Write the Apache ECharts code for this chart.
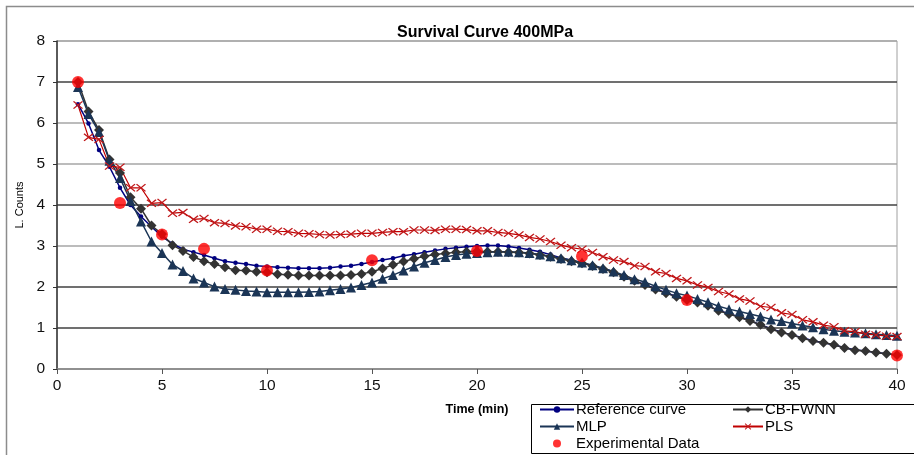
<!DOCTYPE html>
<html>
<head>
<meta charset="utf-8">
<script src="https://cdn.jsdelivr.net/npm/echarts@6/dist/echarts.min.js"></script>
<style>
html,body{margin:0;padding:0;background:#fff;}
#chart{width:914px;height:455px;}
</style>
</head>
<body>
<div id="chart"></div>
<script>
var times = [1,1.5,2,2.5,3,3.5,4,4.5,5,5.5,6,6.5,7,7.5,8,8.5,9,9.5,10,10.5,
  11,11.5,12,12.5,13,13.5,14,14.5,15,15.5,16,16.5,17,17.5,18,18.5,19,19.5,20,20.5,
  21,21.5,22,22.5,23,23.5,24,24.5,25,25.5,26,26.5,27,27.5,28,28.5,29,29.5,30,30.5,
  31,31.5,32,32.5,33,33.5,34,34.5,35,35.5,36,36.5,37,37.5,38,38.5,39,39.5,40];

var referenceCurve = [6.46,5.99,5.34,4.93,4.42,4.00,3.72,3.47,3.23,3.06,2.92,2.85,2.78,2.70,2.63,2.59,2.56,2.52,2.50,2.48,
  2.47,2.46,2.46,2.46,2.47,2.50,2.52,2.56,2.61,2.66,2.70,2.76,2.80,2.85,2.89,2.93,2.96,2.98,3.00,3.01,
  3.01,2.99,2.95,2.91,2.86,2.79,2.71,2.65,2.59,2.52,2.45,2.37,2.26,2.15,2.06,1.95,1.86,1.77,1.69,1.62,
  1.54,1.43,1.35,1.27,1.18,1.08,0.98,0.90,0.83,0.76,0.69,0.64,0.59,0.52,0.47,0.44,0.40,0.37,0.34];

var cbFwnn = [7.00,6.28,5.83,5.11,4.78,4.19,3.91,3.50,3.29,3.02,2.88,2.73,2.63,2.56,2.48,2.41,2.40,2.37,2.36,2.31,
  2.30,2.28,2.28,2.28,2.28,2.28,2.29,2.32,2.37,2.45,2.54,2.62,2.69,2.75,2.79,2.82,2.85,2.86,2.87,2.86,
  2.86,2.85,2.84,2.82,2.78,2.74,2.68,2.63,2.58,2.51,2.44,2.36,2.25,2.15,2.05,1.94,1.85,1.76,1.68,1.62,
  1.54,1.42,1.34,1.26,1.17,1.08,0.97,0.89,0.83,0.75,0.68,0.64,0.59,0.51,0.46,0.44,0.40,0.37,0.34];

var mlp = [6.88,6.22,5.78,5.08,4.66,4.10,3.60,3.11,2.83,2.55,2.39,2.21,2.11,2.01,1.95,1.93,1.90,1.89,1.87,1.87,
  1.87,1.87,1.88,1.89,1.92,1.95,1.99,2.05,2.11,2.20,2.29,2.40,2.50,2.59,2.66,2.73,2.78,2.81,2.83,2.85,
  2.86,2.86,2.85,2.83,2.79,2.75,2.70,2.65,2.60,2.53,2.46,2.38,2.29,2.19,2.12,2.02,1.93,1.85,1.79,1.71,
  1.63,1.53,1.46,1.40,1.34,1.28,1.21,1.17,1.11,1.06,1.02,0.97,0.93,0.91,0.89,0.87,0.85,0.83,0.81];

var pls = [6.44,5.65,5.60,4.95,4.92,4.42,4.42,4.04,4.06,3.80,3.82,3.65,3.67,3.57,3.55,3.49,3.47,3.41,3.41,3.36,
  3.35,3.31,3.30,3.28,3.27,3.28,3.29,3.31,3.31,3.33,3.35,3.35,3.39,3.39,3.38,3.41,3.41,3.40,3.37,3.37,
  3.33,3.31,3.27,3.21,3.17,3.11,3.02,2.96,2.92,2.84,2.74,2.66,2.62,2.52,2.50,2.37,2.33,2.21,2.15,2.05,
  1.99,1.89,1.83,1.71,1.66,1.53,1.50,1.37,1.33,1.20,1.15,1.07,1.03,0.93,0.91,0.85,0.83,0.80,0.79];

var expTimes = [1,3,5,7,10,15,20,25,30,40];
var expValues = [7.00,4.05,3.28,2.93,2.40,2.65,2.88,2.75,1.68,0.33];

var xTicks = [0,5,10,15,20,25,30,35,40];
var yTicks = [0,1,2,3,4,5,6,7,8];

function pairs(xs, ys){ return xs.map(function(x,i){ return [x, ys[i]]; }); }

var FONT = "'Liberation Sans', Arial, sans-serif";
var crossPath = 'path://M0,1L1,0L5,4L9,0L10,1L6,5L10,9L9,10L5,6L1,10L0,9L4,5Z';

var chart = echarts.init(document.getElementById('chart'), null, {renderer:'canvas'});
chart.setOption({
  animation: false,
  backgroundColor: '#fff',
  title: {
    text: 'Survival Curve 400MPa',
    left: 480, top: 20, textAlign: 'center',
    textStyle: {fontFamily: FONT, fontSize: 16, fontWeight: 'bold', color: '#000'}
  },
  grid: {left: 57, right: 17, top: 41, bottom: 86, show: true, borderColor: '#a0a0a0', borderWidth: 1},
  xAxis: {
    type: 'value', min: 0, max: 40, interval: 5,
    name: 'Time (min)', nameLocation: 'middle', nameGap: 34,
    nameTextStyle: {fontFamily: FONT, fontSize: 12.5, fontWeight: 'bold', color: '#000'},
    axisLine: {show: true, lineStyle: {color: '#8c8c8c', width: 1.5}},
    axisTick: {show: true, inside: false, length: 5, lineStyle: {color: '#555'}},
    axisLabel: {fontFamily: FONT, fontSize: 15.5, color: '#111', margin: 9,
      formatter: function(v){ return xTicks.indexOf(v) >= 0 ? String(v) : ''; }},
    splitLine: {show: false}
  },
  yAxis: {
    type: 'value', min: 0, max: 8, interval: 1,
    name: 'L. Counts', nameLocation: 'middle', nameGap: 32, nameRotate: 90,
    nameTextStyle: {fontFamily: FONT, fontSize: 11, color: '#000'},
    axisLine: {show: true, lineStyle: {color: '#333', width: 1.5}},
    axisTick: {show: true, inside: false, length: 4, lineStyle: {color: '#333'}},
    axisLabel: {fontFamily: FONT, fontSize: 15.5, color: '#111', margin: 12,
      formatter: function(v){ return yTicks.indexOf(v) >= 0 ? String(v) : ''; }},
    splitLine: {show: true, lineStyle: {width: 1.5,
      color: ['#8c8c8c','#404040','#404040','#a6a6a6','#404040','#a6a6a6','#a6a6a6','#404040','#a6a6a6']}}
  },
  legend: [
    {
      orient: 'vertical', left: 539, top: 401, padding: 0, itemGap: 0,
      itemWidth: 34, itemHeight: 8,
      textStyle: {fontFamily: FONT, fontSize: 15, color: '#000', lineHeight: 17, padding: [0,0,0,-3]},
      data: ['Reference curve', 'MLP', 'Experimental Data']
    },
    {
      orient: 'vertical', left: 732, top: 401, padding: 0, itemGap: 0,
      itemWidth: 30, itemHeight: 8,
      textStyle: {fontFamily: FONT, fontSize: 15, color: '#000', lineHeight: 17, padding: [0,0,0,-3]},
      data: ['CB-FWNN', 'PLS']
    }
  ],
  graphic: [
    {type: 'rect', left: 4, top: 4, silent: true, z: -10,
      shape: {width: 930, height: 470}, style: {fill: 'none', stroke: '#8c8c8c', lineWidth: 1.5}},
    {type: 'rect', left: 529, top: 402, silent: true,
      shape: {width: 400, height: 49}, style: {fill: 'none', stroke: '#000', lineWidth: 1}}
  ],
  series: [
    {
      name: 'Reference curve', type: 'line', data: pairs(times, referenceCurve),
      symbol: 'circle', symbolSize: 4.5, showAllSymbol: true,
      lineStyle: {color: '#000080', width: 1.5}, itemStyle: {color: '#000080'}
    },
    {
      name: 'CB-FWNN', type: 'line', data: pairs(times, cbFwnn),
      symbol: 'diamond', symbolSize: 10, showAllSymbol: true,
      lineStyle: {color: '#333333', width: 1.5}, itemStyle: {color: '#333333'}
    },
    {
      name: 'MLP', type: 'line', data: pairs(times, mlp),
      symbol: 'triangle', symbolSize: 10, showAllSymbol: true,
      lineStyle: {color: '#1b3556', width: 1.5}, itemStyle: {color: '#1b3556'}
    },
    {
      name: 'PLS', type: 'line', data: pairs(times, pls),
      symbol: crossPath, symbolSize: [10, 8], showAllSymbol: true,
      lineStyle: {color: '#c00000', width: 1.2}, itemStyle: {color: '#c0181a'}
    },
    {
      name: 'Experimental Data', type: 'scatter', data: pairs(expTimes, expValues),
      symbol: 'circle', symbolSize: 12, itemStyle: {color: '#ff0000'}, z: 5
    }
  ]
});
</script>
</body>
</html>
